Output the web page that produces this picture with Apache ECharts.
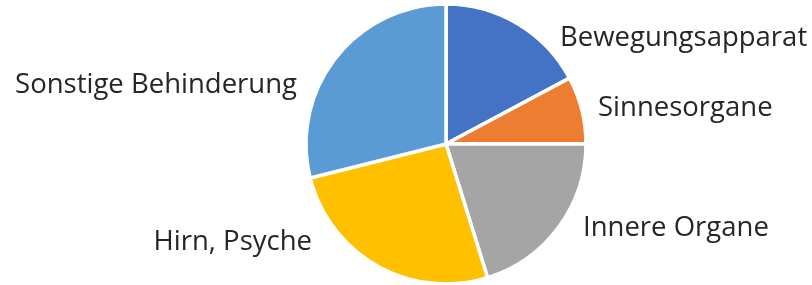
<!DOCTYPE html>
<html>
<head>
<meta charset="utf-8">
<script src="https://cdn.jsdelivr.net/npm/echarts@6/dist/echarts.min.js"></script>
<style>
  html, body { margin: 0; padding: 0; background: #fff; }
  #main { width: 812px; height: 285px; }
</style>
</head>
<body>
<div id="main"></div>
<script>
// Kategorien und Anteile (in %)
var categories = ['Bewegungsapparat', 'Sinnesorgane', 'Innere Organe', 'Hirn, Psyche', 'Sonstige Behinderung'];
var shares = [17.2, 7.8, 20.2, 25.9, 28.9];
var colors = ['#4472C4', '#ED7D31', '#A5A5A5', '#FFC000', '#5B9BD5'];

// Label-Positionen (wie im Original, ohne Linien)
var labelPos = [
  { x: 560, y: 38, align: 'left' },
  { x: 598, y: 108, align: 'left' },
  { x: 583, y: 228, align: 'left' },
  { x: 312, y: 242, align: 'right' },
  { x: 297, y: 85, align: 'right' }
];

var myChart = echarts.init(document.getElementById('main'));

var option = {
  animation: false,
  series: [
    {
      type: 'pie',
      center: [446, 144],
      radius: 140,
      startAngle: 90,
      clockwise: true,
      avoidLabelOverlap: false,
      itemStyle: {
        borderColor: '#fff',
        borderWidth: 3.5
      },
      label: {
        show: true,
        position: 'outside',
        color: '#262626',
        fontFamily: 'Open Sans',
        fontSize: 27.5
      },
      labelLine: { show: false },
      labelLayout: function (params) {
        var p = labelPos[params.dataIndex];
        return { x: p.x, y: p.y, align: p.align, verticalAlign: 'middle' };
      },
      data: categories.map(function (name, i) {
        return { name: name, value: shares[i], itemStyle: { color: colors[i] } };
      })
    }
  ]
};

myChart.setOption(option);
</script>
</body>
</html>
